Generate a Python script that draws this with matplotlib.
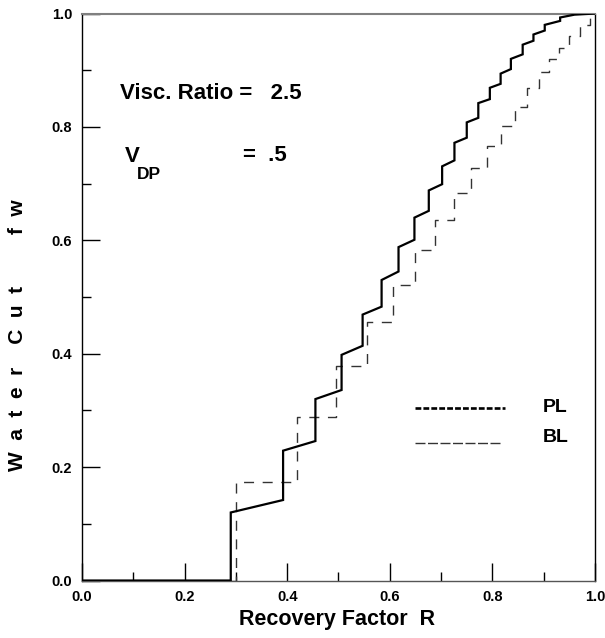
import matplotlib
matplotlib.use("Agg")
import matplotlib.pyplot as plt
from matplotlib.ticker import MultipleLocator

plt.rcParams['font.family'] = ['Liberation Sans', 'DejaVu Sans']
plt.rcParams['font.weight'] = 'bold'

# Piston-like (PL) water-cut curve: vertices of the staircase (R, fw)
pl_r = [0.0, 0.290, 0.290, 0.392, 0.392, 0.455, 0.455, 0.506, 0.506, 0.547, 0.547,
        0.584, 0.584, 0.617, 0.617, 0.648, 0.648, 0.676, 0.676, 0.702, 0.702,
        0.726, 0.726, 0.750, 0.750, 0.7725, 0.7725, 0.795, 0.795, 0.816, 0.816,
        0.836, 0.836, 0.859, 0.859, 0.880, 0.880, 0.902, 0.902, 0.932, 0.932,
        0.960, 1.0]
pl_fw = [0.0, 0.0, 0.120, 0.142, 0.229, 0.246, 0.320, 0.336, 0.398, 0.414, 0.469,
         0.483, 0.530, 0.545, 0.588, 0.601, 0.640, 0.652, 0.688, 0.699, 0.7305,
         0.741, 0.772, 0.781, 0.808, 0.816, 0.842, 0.849, 0.869, 0.876, 0.894,
         0.902, 0.920, 0.928, 0.945, 0.952, 0.963, 0.970, 0.980, 0.987, 0.993,
         0.998, 1.0]

# Buckley-Leverett (BL) curve: breakpoints of the step function
bl_r = [0.0, 0.300, 0.420, 0.496, 0.555, 0.607, 0.649, 0.688, 0.725, 0.758, 0.789,
        0.817, 0.844, 0.868, 0.890, 0.910, 0.930, 0.950, 0.970, 0.990, 1.0]
bl_fw = [0.0, 0.174, 0.288, 0.379, 0.456, 0.522, 0.583, 0.635, 0.683, 0.728, 0.767,
         0.802, 0.835, 0.868, 0.896, 0.919, 0.940, 0.960, 0.979, 0.992, 0.995]

x_ticks = [0.0, 0.2, 0.4, 0.6, 0.8, 1.0]
y_ticks = [0.0, 0.2, 0.4, 0.6, 0.8, 1.0]

fig = plt.figure(figsize=(6.05, 6.38), dpi=100)
ax = fig.add_axes([0.1355, 0.0901, 0.848, 0.8887])

ax.plot(pl_r, pl_fw, color='black', lw=1.6, solid_joinstyle='miter', zorder=3)
ax.plot(bl_r, bl_fw, color='#333333', lw=1.0, drawstyle='steps-post',
        linestyle=(0, (7.2, 6.2)), zorder=2)

ax.set_xlim(0, 1.0)
ax.set_ylim(0, 1.0)
ax.set_xticks(x_ticks)
ax.set_yticks(y_ticks)
ax.set_xticklabels([f"{v:.1f}" for v in x_ticks])
ax.set_yticklabels([f"{v:.1f}" for v in y_ticks])
ax.xaxis.set_minor_locator(MultipleLocator(0.1))
ax.yaxis.set_minor_locator(MultipleLocator(0.1))
ax.tick_params(which='major', direction='in', length=13, width=1.0,
               labelsize=10.5, top=False, right=False, pad=7)
ax.tick_params(which='minor', direction='in', length=6.8, width=1.0,
               top=False, right=False)
for lab in ax.get_xticklabels() + ax.get_yticklabels():
    lab.set_fontweight('bold')

for side in ['left', 'right']:
    ax.spines[side].set_color('black')
    ax.spines[side].set_linewidth(1.0)
ax.spines['top'].set_color('#808080')
ax.spines['top'].set_linewidth(1.5)
ax.spines['bottom'].set_color('#555555')
ax.spines['bottom'].set_linewidth(1.0)

# Axis titles
fig.text(337 / 605, 1 - 620 / 638, "Recovery Factor  R", ha='center', va='center',
         fontsize=15.5, fontweight='bold')
fig.text(18 / 605, 1 - 335 / 638, "W  a  t  e  r    C  u  t         f  w",
         ha='center', va='center', rotation=90, fontsize=15, fontweight='bold')

# Parameter annotations
ax.text(0.074, 0.859, "Visc. Ratio =   2.5", ha='left', va='center',
        fontsize=16, fontweight='bold')
ax.text(0.083, 0.748, "V", ha='left', va='center', fontsize=16, fontweight='bold')
ax.text(0.107, 0.716, "DP", ha='left', va='center', fontsize=12.5, fontweight='bold')
ax.text(0.313, 0.750, "=  .5", ha='left', va='center', fontsize=16, fontweight='bold')

# Line key
ax.plot([0.649, 0.825], [0.305, 0.305], color='black', lw=1.9,
        linestyle=(0, (2.2, 0.8)))
ax.plot([0.649, 0.815], [0.243, 0.243], color='#333333', lw=1.0,
        linestyle=(0, (7.2, 1.8)))
ax.text(0.899, 0.305, "PL", ha='left', va='center', fontsize=14, fontweight='bold')
ax.text(0.899, 0.253, "BL", ha='left', va='center', fontsize=14, fontweight='bold')

fig.savefig("out.png", dpi=100)
